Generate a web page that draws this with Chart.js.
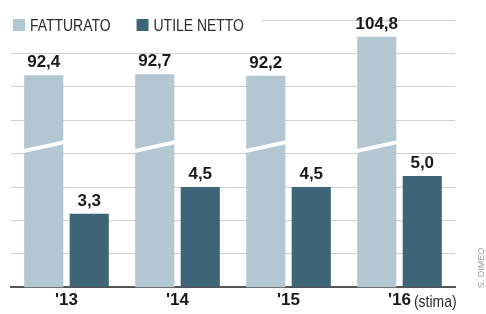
<!DOCTYPE html>
<html>
<head>
<meta charset="utf-8">
<script src="https://cdn.jsdelivr.net/npm/chart.js@4/dist/chart.umd.min.js"></script>
<style>
  html, body { margin: 0; padding: 0; background: #fff; }
  #wrap { width: 486px; height: 314px; position: relative; }
</style>
</head>
<body>
<div id="wrap"><canvas id="chart" width="486" height="314"></canvas></div>
<script>
// data
const years = ["'13", "'14", "'15", "'16"];
const fatturato = [92.4, 92.7, 92.2, 104.8];
const utileNetto = [3.3, 4.5, 4.5, 5.0];
const seriesNames = ['FATTURATO', 'UTILE NETTO'];
const estimateNote = '(stima)';
const credit = 'S. DIMEO';

const LIGHT = '#b2c7d1';
const DARK = '#3d6477';
const BOLD = 'bold 17px "Liberation Sans", Arial, sans-serif';
const REGULAR = '17px "Liberation Sans", Arial, sans-serif';
const SQUEEZE = 0.82; // no narrow font installed, so squeeze the regular one

const fmt = v => v.toFixed(1).replace('.', ',');

// draws text horizontally squeezed, left aligned at x
function narrowText(ctx, text, x, y) {
    ctx.save();
    ctx.translate(x, y);
    ctx.scale(SQUEEZE, 1);
    ctx.fillText(text, 0, 0);
    ctx.restore();
    return ctx.measureText(text).width * SQUEEZE;
}

// value labels, scale-break stripes, legend and notes
const decorations = {
    id: 'decorations',
    afterDatasetsDraw(chart) {
        const ctx = chart.ctx;
        const area = chart.chartArea;

        // white slanted break across the fatturato bars
        const breakY = area.top + (area.bottom - area.top) * 0.472;
        ctx.save();
        ctx.strokeStyle = '#fff';
        ctx.lineWidth = 4;
        chart.getDatasetMeta(0).data.forEach(bar => {
            const half = bar.width / 2;
            ctx.beginPath();
            ctx.moveTo(bar.x - half - 1, breakY + 5);
            ctx.lineTo(bar.x + half + 1, breakY - 4);
            ctx.stroke();
        });
        ctx.restore();

        // value labels above bars
        ctx.save();
        ctx.font = BOLD;
        ctx.fillStyle = '#1a1a1a';
        ctx.textAlign = 'center';
        ctx.textBaseline = 'bottom';
        chart.data.datasets.forEach((ds, i) => {
            chart.getDatasetMeta(i).data.forEach((bar, j) => {
                ctx.fillText(fmt(ds.data[j]), bar.x, bar.y - 4);
            });
        });
        ctx.restore();
    },
    afterDraw(chart) {
        const ctx = chart.ctx;
        const xScale = chart.scales.x;

        // legend, on a white strip over the top gridline
        ctx.save();
        ctx.fillStyle = '#fff';
        ctx.fillRect(0, 12, 262, 18);
        ctx.font = REGULAR;
        ctx.textBaseline = 'middle';
        let x = 13;
        chart.data.datasets.forEach(ds => {
            ctx.fillStyle = ds.backgroundColor;
            ctx.fillRect(x, 19, 12, 12);
            ctx.fillStyle = '#2b2b2b';
            const w = narrowText(ctx, ds.label, x + 17, 26);
            x += 17 + w + 26;
        });

        // "(stima)" next to the last year
        const last = years.length - 1;
        const lx = xScale.getPixelForValue(last);
        ctx.font = BOLD;
        const w = ctx.measureText(years[last]).width;
        ctx.font = REGULAR;
        ctx.fillStyle = '#2b2b2b';
        narrowText(ctx, estimateNote, lx + w / 2 + 3, 302);

        // credit, rotated, at the right edge
        ctx.translate(482, 268);
        ctx.rotate(-Math.PI / 2);
        ctx.font = '9px "Liberation Sans", sans-serif';
        ctx.fillStyle = '#999';
        ctx.textAlign = 'center';
        ctx.fillText(credit, 0, 0);
        ctx.restore();
    }
};

new Chart(document.getElementById('chart'), {
    type: 'bar',
    data: {
        labels: years,
        datasets: [
            { label: seriesNames[0], data: fatturato, backgroundColor: LIGHT, yAxisID: 'y2' },
            { label: seriesNames[1], data: utileNetto, backgroundColor: DARK, yAxisID: 'y' }
        ]
    },
    options: {
        responsive: false,
        animation: false,
        categoryPercentage: 0.82,
        barPercentage: 0.86,
        layout: { padding: { left: 11, right: 31, top: 20, bottom: 0 } },
        plugins: {
            legend: { display: false },
            tooltip: { enabled: false }
        },
        scales: {
            x: {
                grid: { display: false, drawTicks: false },
                border: { display: true, color: '#555', width: 2 },
                ticks: {
                    font: { family: '"Liberation Sans", Arial, sans-serif', size: 17, weight: 'bold', lineHeight: 1.1 },
                    color: '#1a1a1a',
                    padding: 4
                }
            },
            y: {
                min: 0,
                max: 12,
                grid: { color: '#cfcfcf', lineWidth: 1, drawTicks: false },
                border: { display: false },
                ticks: { display: false, stepSize: 1.5 }
            },
            y2: {
                display: false,
                min: 24,
                max: 110.2
            }
        }
    },
    plugins: [decorations]
});
</script>
</body>
</html>
